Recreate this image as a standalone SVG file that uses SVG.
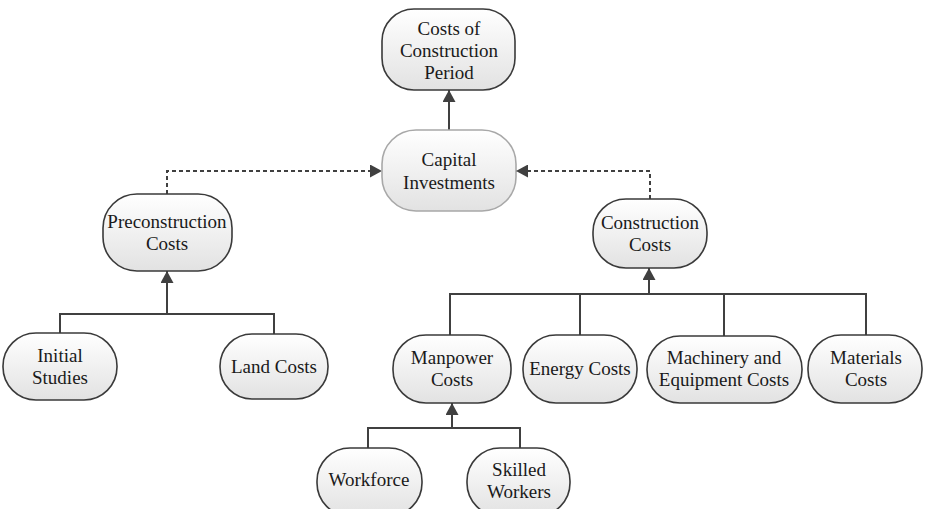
<svg xmlns="http://www.w3.org/2000/svg" width="928" height="509" viewBox="0 0 928 509">
<defs>
<linearGradient id="g" x1="0" y1="0" x2="0" y2="1">
<stop offset="0" stop-color="#ffffff"/>
<stop offset="1" stop-color="#e2e2e2"/>
</linearGradient>
<marker id="ah" markerUnits="userSpaceOnUse" markerWidth="12" markerHeight="13" viewBox="0 0 12 13" refX="12" refY="6.5" orient="auto">
<path d="M0,0 L12,6.5 L0,13 z" fill="#404040"/>
</marker>
<style>
.n rect{fill:url(#g);stroke:#3a3a3a;stroke-width:1.6}
.n.light rect{stroke:#a8a8a8}
.t{font-family:'Liberation Serif','Times New Roman',Tinos,serif;font-size:19px;fill:#1a1a1a;text-anchor:middle}
.c path{fill:none;stroke:#404040;stroke-width:2}
.c .d{stroke-dasharray:4 3}
</style>
</defs>
<rect width="928" height="509" fill="#ffffff"/>
<g class="c">
<path d="M449 130 V90" marker-end="url(#ah)"/>
<path class="d" d="M167 194 V171 H382" marker-end="url(#ah)"/>
<path class="d" d="M650 199 V171 H516" marker-end="url(#ah)"/>
<path d="M60 333 V314 H274 V334"/>
<path d="M167 314 V271" marker-end="url(#ah)"/>
<path d="M450 335 V294 H866 V335"/>
<path d="M580 294 V335"/>
<path d="M724 294 V336"/>
<path d="M649 294 V268" marker-end="url(#ah)"/>
<path d="M368 448 V428 H520 V448"/>
<path d="M452 428 V403" marker-end="url(#ah)"/>
</g>
<g class="t" font-family="Liberation Serif, serif">
<g id="n-top" class="n"><rect x="382" y="9" width="133" height="81" rx="32"/>
<text x="449" y="35">Costs of</text><text x="449" y="57">Construction</text><text x="449" y="79">Period</text></g>
<g id="n-capital" class="n light"><rect x="382" y="130" width="134" height="81" rx="34"/>
<text x="449" y="166">Capital</text><text x="449" y="189">Investments</text></g>
<g id="n-pre" class="n"><rect x="103" y="194" width="129" height="77" rx="34"/>
<text x="167" y="228">Preconstruction</text><text x="167" y="250">Costs</text></g>
<g id="n-con" class="n"><rect x="593" y="199" width="114" height="69" rx="33"/>
<text x="650" y="229">Construction</text><text x="650" y="251">Costs</text></g>
<g id="n-initial" class="n"><rect x="3" y="333" width="114" height="67" rx="33"/>
<text x="60" y="362">Initial</text><text x="60" y="384">Studies</text></g>
<g id="n-land" class="n"><rect x="220" y="334" width="108" height="65" rx="32"/>
<text x="274" y="373">Land Costs</text></g>
<g id="n-manpower" class="n"><rect x="393" y="335" width="118" height="68" rx="33"/>
<text x="452" y="364">Manpower</text><text x="452" y="386">Costs</text></g>
<g id="n-energy" class="n"><rect x="523" y="335" width="114" height="68" rx="33"/>
<text x="580" y="375">Energy Costs</text></g>
<g id="n-machinery" class="n"><rect x="647" y="336" width="155" height="67" rx="33"/>
<text x="724" y="364">Machinery and</text><text x="724" y="386">Equipment Costs</text></g>
<g id="n-materials" class="n"><rect x="808" y="335" width="114" height="68" rx="33"/>
<text x="866" y="364">Materials</text><text x="866" y="386">Costs</text></g>
<g id="n-workforce" class="n"><rect x="317" y="448" width="105" height="68" rx="33"/>
<text x="369" y="486">Workforce</text></g>
<g id="n-skilled" class="n"><rect x="467" y="448" width="103" height="68" rx="33"/>
<text x="519" y="476">Skilled</text><text x="519" y="498">Workers</text></g>
</g>
</svg>
